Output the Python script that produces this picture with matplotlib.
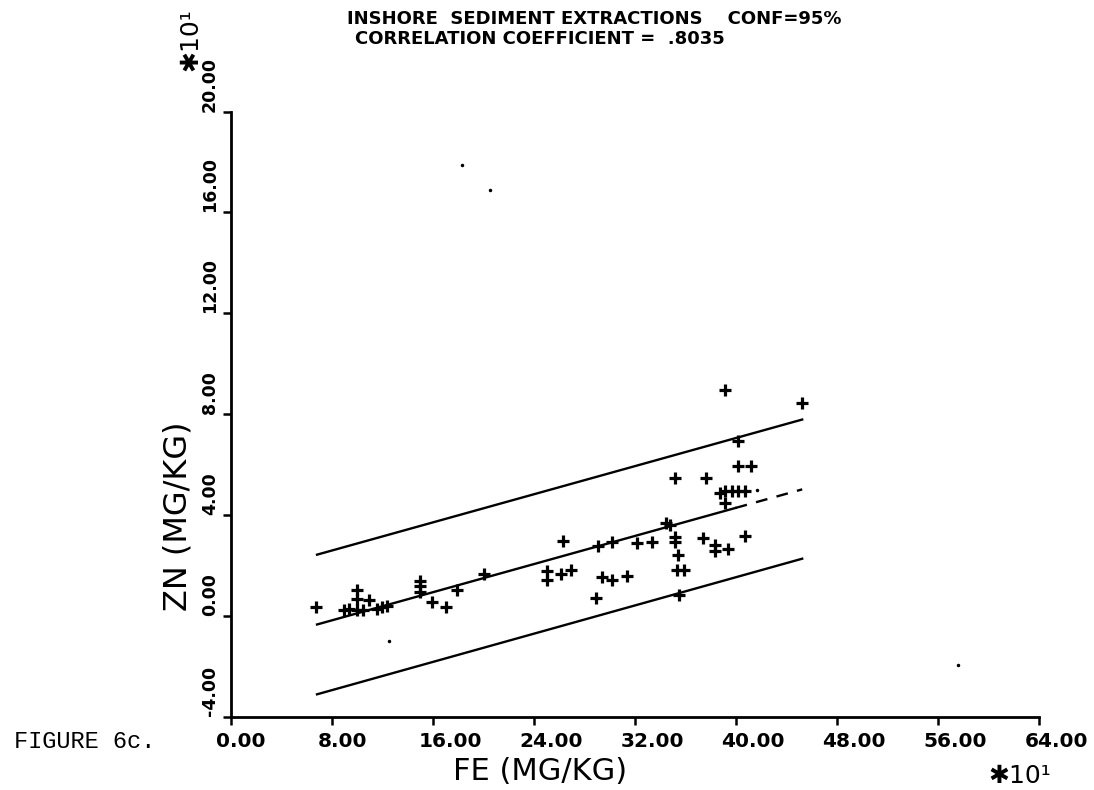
import matplotlib
matplotlib.use("Agg")
import matplotlib.pyplot as plt
from matplotlib.transforms import ScaledTranslation

# ---------------- data ----------------
fe = [6.71, 8.93, 9.35, 9.93, 10.46, 9.93, 9.98, 10.93, 11.52, 11.91, 12.36,
      14.95, 14.95, 14.95, 15.92, 16.98, 17.85, 20.04, 25.03, 25.03, 26.08,
      26.30, 26.87, 28.88, 29.08, 29.34, 30.13, 30.15, 31.32, 32.11, 33.29,
      34.47, 34.77, 35.15, 35.15, 35.15, 35.35, 35.28, 35.89, 35.48, 37.34,
      37.59, 38.31, 38.31, 39.37, 39.10, 38.71, 39.10, 39.64, 40.15, 40.69,
      39.10, 40.16, 40.16, 41.16, 40.69, 45.23]
zn = [0.34, 0.21, 0.26, 0.24, 0.21, 1.00, 0.66, 0.61, 0.26, 0.34, 0.39,
      1.36, 1.19, 0.92, 0.53, 0.34, 1.00, 1.66, 1.76, 1.42, 1.66,
      2.98, 1.80, 0.70, 2.77, 1.55, 2.91, 1.42, 1.58, 2.88, 2.92,
      3.67, 3.60, 5.46, 3.14, 2.94, 2.42, 1.80, 1.80, 0.83, 3.08,
      5.46, 2.81, 2.55, 2.64, 8.95, 4.85, 4.95, 4.95, 4.95, 4.95,
      4.46, 6.94, 5.94, 5.94, 3.17, 8.43]
stray_fe = [18.30, 20.48, 12.52, 57.59, 41.67]
stray_zn = [17.86, 16.89, -1.01, -1.94, 4.98]

fit_x = [6.79, 45.22]
fit_mid = [-0.35, 5.01]
fit_upper = [2.42, 7.78]
fit_lower = [-3.12, 2.26]
dash_from = 39.94

xticks = [0, 8, 16, 24, 32, 40, 48, 56, 64]
xlabels = ["0.00", "8.00", "16.00", "24.00", "32.00", "40.00", "48.00", "56.00", "64.00"]
yticks = [-4, 0, 4, 8, 12, 16, 20]
ylabels = ["-4.00", "0.00", "4.00", "8.00", "12.00", "16.00", "20.00"]

title1 = "INSHORE  SEDIMENT EXTRACTIONS    CONF=95%"
title2 = "CORRELATION COEFFICIENT =  .8035"

# ---------------- style ----------------
plt.rcParams['font.family'] = ['DejaVu Sans']

W, H = 1094, 790
fig = plt.figure(figsize=(W / 100, H / 100), dpi=100)
ax = fig.add_axes([231.3 / W, 1 - 716.5 / H, 808 / W, 605 / H])
ax.set_xlim(0, 64)
ax.set_ylim(-4, 20)
for s in ('top', 'right'):
    ax.spines[s].set_visible(False)
for s in ('left', 'bottom'):
    ax.spines[s].set_linewidth(2.0)
ax.tick_params(direction='out', length=6, width=1.8)
ax.tick_params(axis='x', pad=5)
ax.tick_params(axis='y', pad=3)
ax.set_xticks(xticks)
ax.set_xticklabels(xlabels, fontsize=14.5, fontweight='bold', ha='left')
shift = ScaledTranslation(-0.15, 0, fig.dpi_scale_trans)
for lab in ax.get_xticklabels():
    lab.set_transform(lab.get_transform() + shift)
ax.set_yticks(yticks)
ax.set_yticklabels(ylabels, fontsize=12.5, fontweight='bold', rotation=90,
                   va='bottom', ha='right')

# regression + confidence lines
ax.plot(fit_x, fit_upper, color='black', lw=1.7)
ax.plot(fit_x, fit_lower, color='black', lw=1.7)
slope = (fit_mid[1] - fit_mid[0]) / (fit_x[1] - fit_x[0])
ymid_at = fit_mid[0] + slope * (dash_from - fit_x[0])
ax.plot([fit_x[0], dash_from], [fit_mid[0], ymid_at], color='black', lw=1.7)
ax.plot([dash_from, fit_x[1]], [ymid_at, fit_mid[1]], color='black', lw=1.7,
        dashes=(5, 4))

ax.plot(fe, zn, linestyle='none', marker='+', markersize=8, mew=2.3, color='black')
ax.plot(stray_fe, stray_zn, linestyle='none', marker='.', markersize=3, color='black')

fig.text(540 / W, 1 - 771 / H, "FE (MG/KG)", ha='center', va='center', fontsize=22)
fig.text(178 / W, 1 - 516 / H, "ZN (MG/KG)", ha='center', va='center',
         fontsize=23, rotation=90)

fig.text(347 / W, 1 - 19 / H, title1, ha='left', va='center',
         fontsize=13, fontweight='bold')
fig.text(355 / W, 1 - 39 / H, title2, ha='left', va='center',
         fontsize=13, fontweight='bold')

fig.text(1020 / W, 1 - 776 / H, "✱10¹", ha='center', va='center', fontsize=18)
fig.text(190 / W, 1 - 40 / H, "✱10¹", ha='center', va='center',
         fontsize=18, rotation=90)
fig.text(14 / W, 1 - 742 / H, "FIGURE 6c.", ha='left', va='center',
         fontsize=17, family=['Liberation Mono', 'DejaVu Sans Mono'])

fig.savefig("out.png", dpi=100, facecolor='white')
